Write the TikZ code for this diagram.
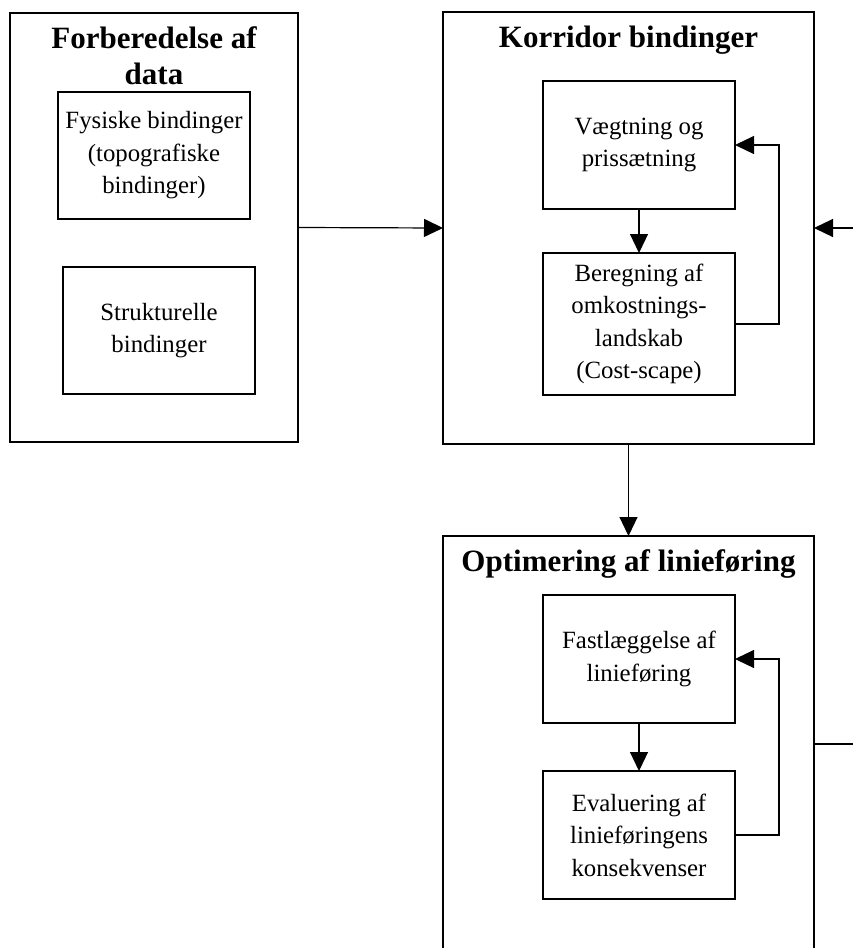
\documentclass[tikz,border=0pt]{standalone}
\usepackage{fontspec}
\setmainfont{Liberation Serif}
\usetikzlibrary{arrows.meta}
\begin{document}
\begin{tikzpicture}[x=1pt,y=-1pt,
  every node/.style={inner sep=0pt, outer sep=0pt},
  frame/.style={draw, line width=1.2pt},
  inbox/.style={draw, line width=1.2pt, minimum width=192pt, align=center,
    font=\fontsize{24.8}{32.5}\selectfont},
  ttl/.style={align=center, font=\fontsize{31}{36}\selectfont\bfseries},
  arr/.style={line width=1.2pt, -{Triangle[length=19pt,width=18pt]}},
  ln/.style={line width=1.2pt}]
\useasboundingbox (0,0) rectangle (853,948);
\clip (0,0) rectangle (853,948);

% Box A
\node[frame, minimum width=288pt, minimum height=429pt] (A) at (154,227.5) {};
\node[ttl, anchor=north] (At) at (154,27) {Forberedelse af\\data};
\node[inbox, minimum height=127pt] (A1) at (154,155.5) {Fysiske bindinger\\(topografiske\\bindinger)};
\node[inbox, minimum height=127pt] (A2) at (159,330.5) {Strukturelle\\bindinger};

% Box B
\node[frame, minimum width=371pt, minimum height=432pt] (B) at (628.5,228) {};
\node[ttl, anchor=base] (Bt) at (628.5,47) {Korridor bindinger};
\node[inbox, minimum height=128pt] (B1) at (639,145) {Vægtning og\\prissætning};
\node[inbox, minimum height=142pt] (B2) at (639,324) {Beregning af\\omkostnings-\\landskab\\(Cost-scape)};

% Box C (cut off at the bottom)
\coordinate (Ctl) at (443,536);
\coordinate (Ctr) at (814,536);
\coordinate (Cbl) at (443,960);
\coordinate (Cbr) at (814,960);
\coordinate (Ctop) at (628.5,536);
\coordinate (Cr) at (814,744);
\draw[ln] (Cbl) -- (Ctl) -- (Ctr) -- (Cbr);
\node[ttl, anchor=base] (Ct) at (628.5,571) {Optimering af linieføring};
\node[inbox, minimum height=128pt] (C1) at (639,659) {Fastlæggelse af\\linieføring};
\node[inbox, minimum height=128pt] (C2) at (639,835) {Evaluering af\\linieføringens\\konsekvenser};

% outside ends
\coordinate (Rin) at (853,228);
\coordinate (Rout) at (853,744);

% connectors
\draw[arr] (A.east) -- (B.west);
\draw[arr] (Rin) -- (B.east);
\draw[arr] (B.south) -- (Ctop);
\draw[ln] (Cr) -- (Rout);
\draw[arr] (B1.south) -- (B2.north);
\draw[arr] (B2.east) -- (779,324) |- (B1.east);
\draw[arr] (C1.south) -- (C2.north);
\draw[arr] (C2.east) -- (779,835) |- (C1.east);
\end{tikzpicture}
\end{document}
